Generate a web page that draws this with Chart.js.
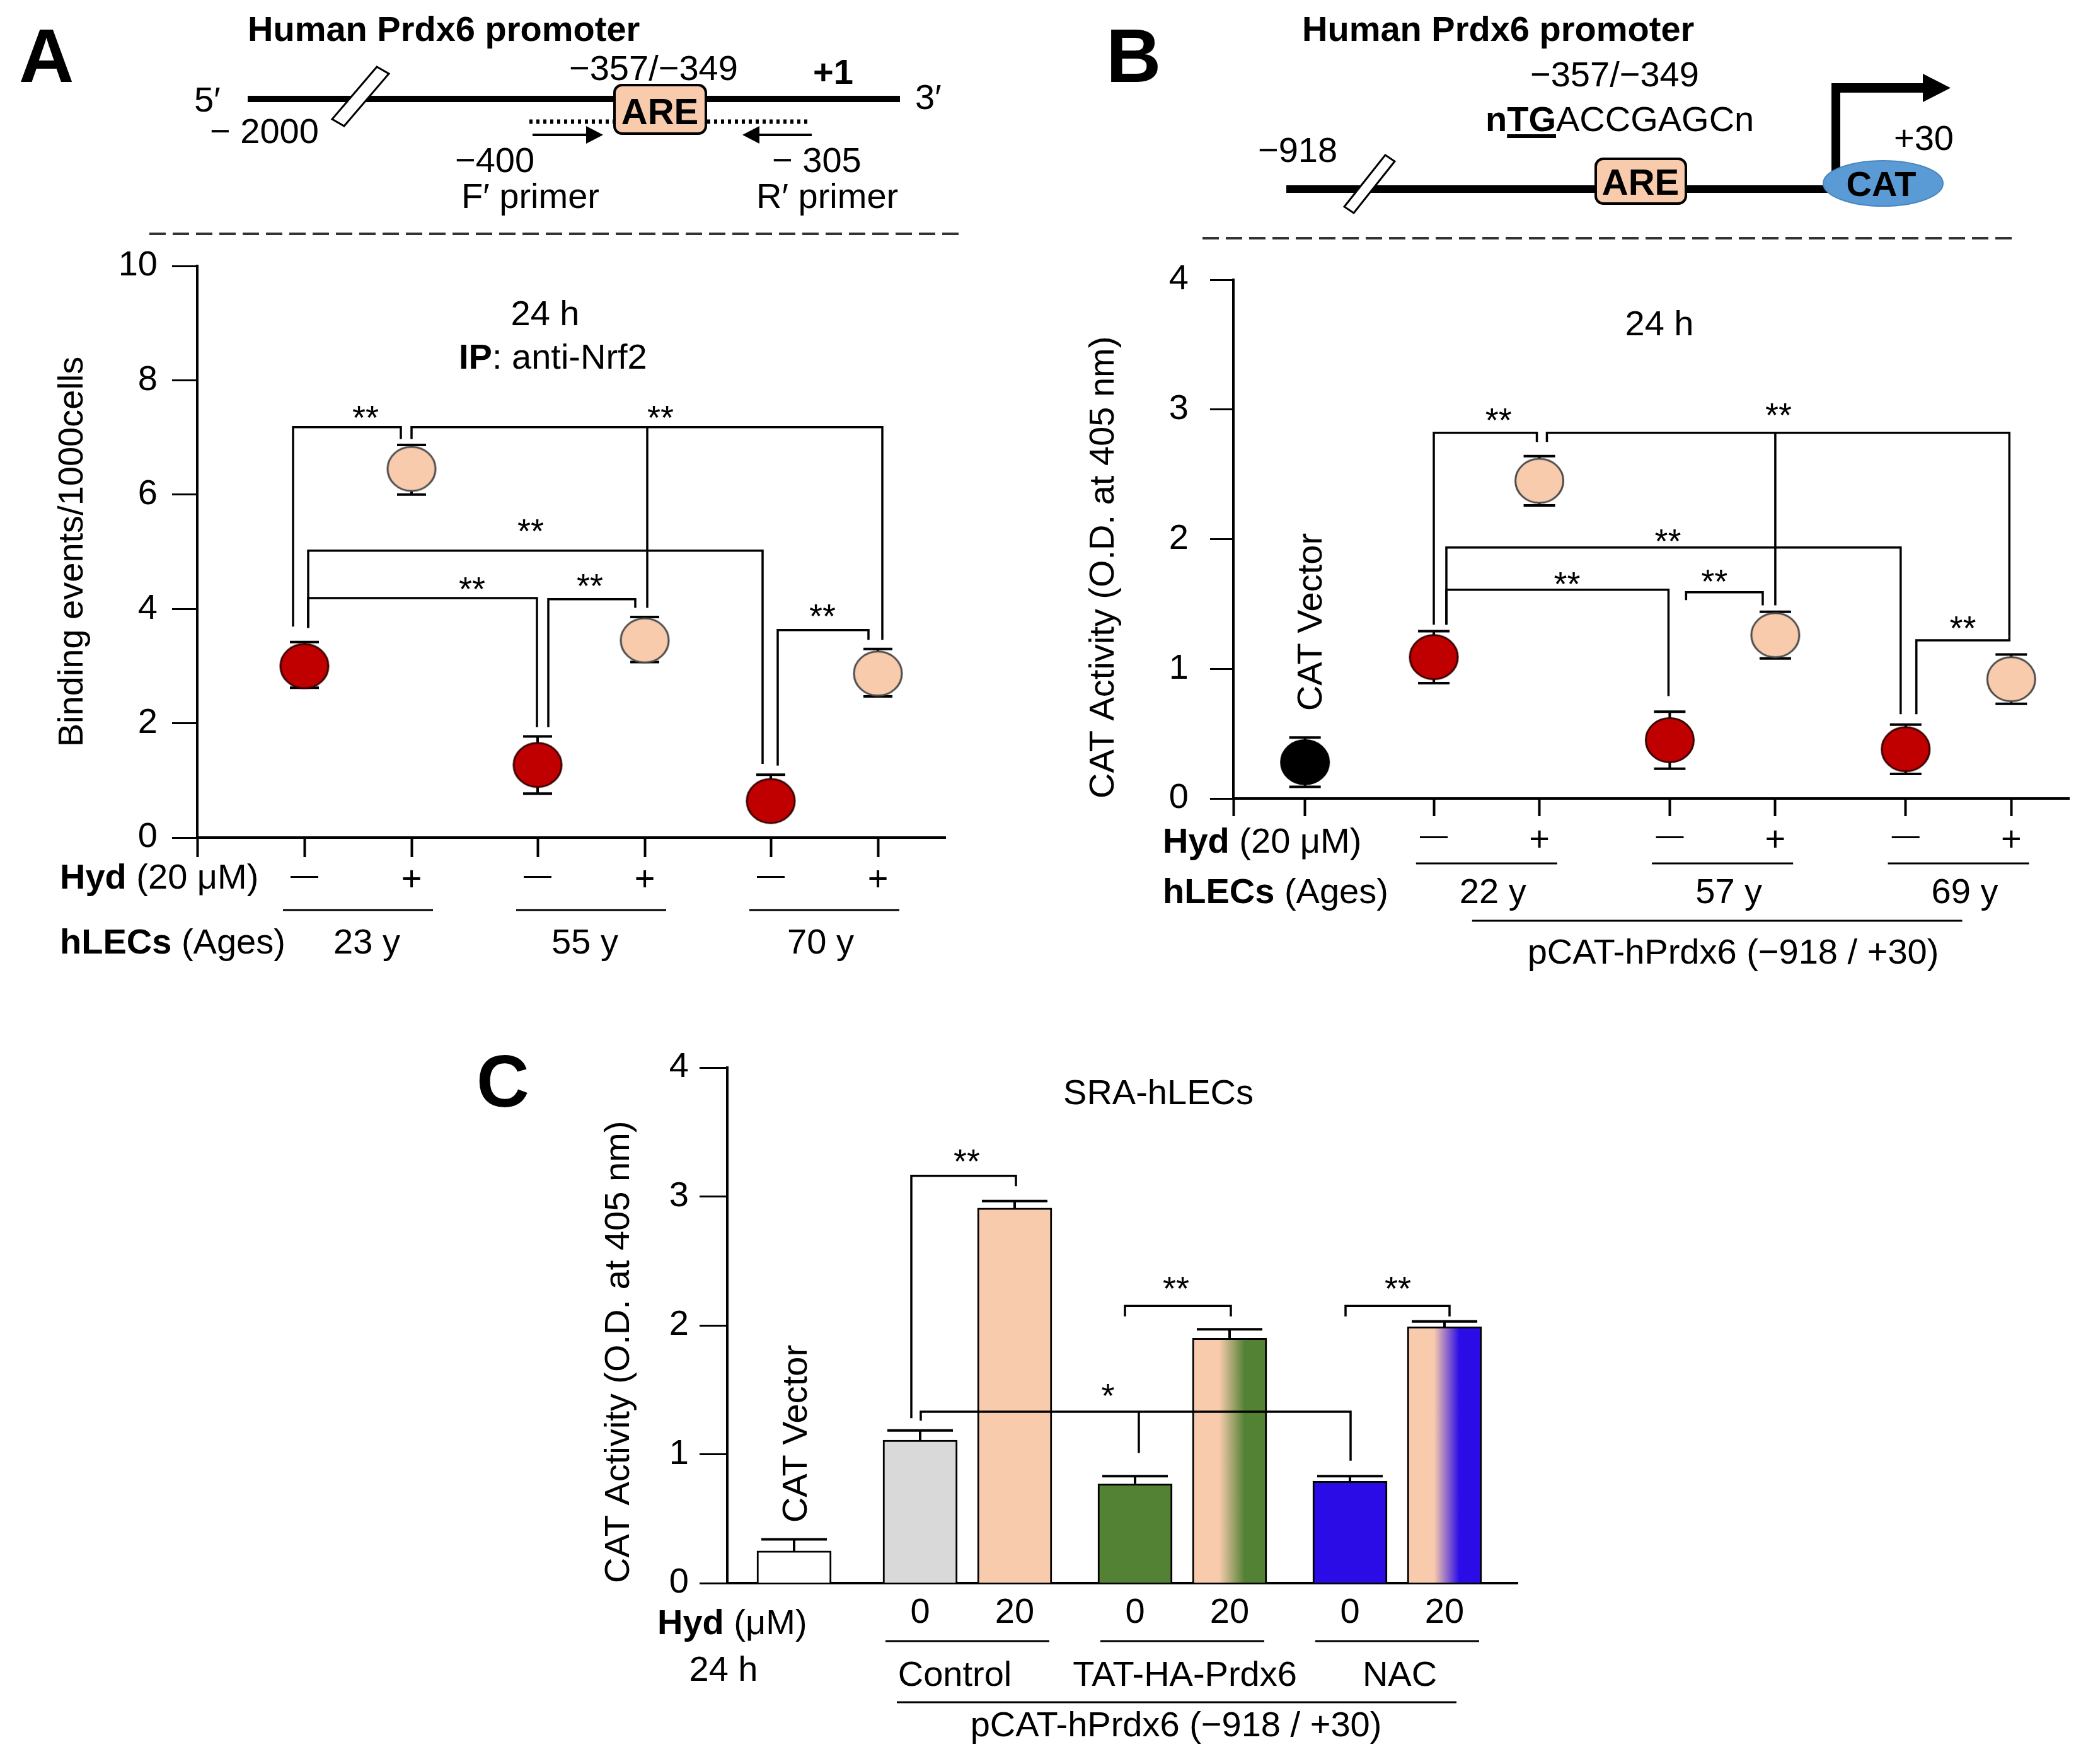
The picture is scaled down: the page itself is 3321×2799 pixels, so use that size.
<!DOCTYPE html>
<html><head><meta charset="utf-8">
<script src="https://cdn.jsdelivr.net/npm/chart.js@4.4.1/dist/chart.umd.min.js"></script>
<style>
html,body{margin:0;padding:0;background:#fff;}
body{width:3321px;height:2799px;position:relative;overflow:hidden;}
canvas{position:absolute;left:0;top:0;}
</style></head><body>
<canvas id="deco" width="3321" height="2799"></canvas>
<canvas id="cA" width="3321" height="2799"></canvas>
<canvas id="cB" width="3321" height="2799"></canvas>
<canvas id="cC" width="3321" height="2799"></canvas>
<script>
// ================= DATA =================
// Panel A : ChIP, binding events / 1000 cells
const A_ages = ['23 y', '55 y', '70 y'];
const A_hyd = ['—', '+'];
const A_mean = [3.0, 6.45, 1.27, 3.45, 0.64, 2.87];
const A_errUp = [0.42, 0.42, 0.5, 0.41, 0.46, 0.43];
const A_errDown = [0.38, 0.45, 0.5, 0.38, 0.3, 0.4];
const A_yTicks = [0, 2, 4, 6, 8, 10];

// Panel B : CAT activity, age groups
const B_ages = ['22 y', '57 y', '69 y'];
const B_hyd = ['—', '+'];
const B_vectorMean = [0.28];
const B_vectorErr = [0.19];
const B_mean = [1.09, 2.45, 0.45, 1.26, 0.38, 0.92];
const B_err = [0.2, 0.19, 0.22, 0.18, 0.19, 0.19];
const B_yTicks = [0, 1, 2, 3, 4];

// Panel C : CAT activity, SRA-hLECs
const C_groups = ['Control', 'TAT-HA-Prdx6', 'NAC'];
const C_hyd = ['0', '20'];
const C_vectorMean = [0.25];
const C_vectorErr = [0.09];
const C_mean = [1.11, 2.91, 0.77, 1.90, 0.79, 1.99];
const C_err = [0.075, 0.055, 0.06, 0.07, 0.04, 0.04];
const C_yTicks = [0, 1, 2, 3, 4];

// significance brackets: legs = [category, px offset, leg-bottom value]
const A_brackets = [
  {top: 7.18, legs: [[0, -18, 3.69], [1, -17, 6.97]], label: '**', lc: 0, ldx: 97, ly: 7.45},
  {top: 7.18, legs: [[1, 0, 6.97], [3, 4, 4.02], [5, 7, 3.46]], label: '**', lc: 3, ldx: 25, ly: 7.45},
  {top: 5.02, legs: [[0, 6, 3.67], [4, -13, 1.29]], label: '**', lc: 2, ldx: -11, ly: 5.46},
  {top: 4.19, legs: [[0, 6, 3.67], [2, -1, 1.93]], label: '**', lc: 2, ldx: -104, ly: 4.45},
  {top: 4.17, legs: [[2, 17, 1.93], [3, -15, 4.02]], label: '**', lc: 3, ldx: -87, ly: 4.5},
  {top: 3.63, legs: [[4, 11, 1.26], [5, -15, 3.46]], label: '**', lc: 4, ldx: 82, ly: 3.98}
];
const B_brackets = [
  {top: 2.82, legs: [[0, 0, 1.34], [1, -4, 2.75]], label: '**', lc: 0, ldx: 103, ly: 2.96},
  {top: 2.82, legs: [[1, 12, 2.75], [3, 0, 1.49], [5, -3, 1.25]], label: '**', lc: 3, ldx: 5, ly: 3.0},
  {top: 1.935, legs: [[0, 20, 1.34], [4, -8, 0.65]], label: '**', lc: 2, ldx: -3, ly: 2.03},
  {top: 1.61, legs: [[0, 20, 1.34], [2, -2, 0.79]], label: '**', lc: 1, ldx: 44, ly: 1.70},
  {top: 1.59, legs: [[2, 26, 1.53], [3, -20, 1.49]], label: '**', lc: 2, ldx: 71, ly: 1.72},
  {top: 1.22, legs: [[4, 17, 0.65], [5, -3, 1.25]], label: '**', lc: 4, ldx: 91, ly: 1.36}
];
const C_brackets = [
  {top: 3.16, legs: [[0, -14, 1.28], [1, 2, 3.08]], label: '**', lc: 0, ldx: 74, ly: 3.32},
  {top: 2.15, legs: [[2, -16, 2.07], [3, 2, 2.07]], label: '**', lc: 2, ldx: 65, ly: 2.33},
  {top: 2.15, legs: [[4, -7, 2.07], [5, 8, 2.07]], label: '**', lc: 4, ldx: 76, ly: 2.33},
  {top: 1.33, legs: [[0, 1, 1.26], [2, 6, 1.01], [4, 1, 0.95]], label: '*', lc: 2, ldx: -43, ly: 1.50}
];

// ================= LAYOUT HELPERS =================
const W = 3321, H = 2799;
const FF = "'Liberation Sans', Arial, Helvetica, sans-serif";
const PEACH = '#F8CBAD', RED = '#C00000', GREEN = '#548235', BLUE = '#2B0CE6', GRAY = '#D9D9D9';
Chart.defaults.font.family = FF;
Chart.defaults.color = '#000';

// x positions (in pixel units along each x scale)
const A_x = i => 170 + Math.floor(i / 2) * 370 + (i % 2) * 170;
const B_vx = 114;
const B_x = i => 319 + Math.floor(i / 2) * 375.5 + (i % 2) * 168;
const C_vx = 106;
const C_x = i => 306 + Math.floor(i / 2) * 341 + (i % 2) * 150;

function T(ctx, parts, x, y, align, size) {
  let total = 0;
  const ws = parts.map(([t, b]) => { ctx.font = (b ? 'bold ' : '') + size + 'px ' + FF; const w = ctx.measureText(t).width; total += w; return w; });
  let cx = align === 'center' ? x - total / 2 : (align === 'right' ? x - total : x);
  const starts = [];
  ctx.textAlign = 'left'; ctx.textBaseline = 'alphabetic'; ctx.fillStyle = '#000';
  parts.forEach(([t, b], i) => { ctx.font = (b ? 'bold ' : '') + size + 'px ' + FF; starts.push(cx); ctx.fillText(t, cx, y); cx += ws[i]; });
  return {starts, ws};
}
function starText(ctx, t, x, cy, size) {
  ctx.font = size + 'px ' + FF;
  const m = ctx.measureText(t);
  ctx.textAlign = 'center'; ctx.textBaseline = 'alphabetic'; ctx.fillStyle = '#000';
  ctx.fillText(t, x, cy + (m.actualBoundingBoxAscent - m.actualBoundingBoxDescent) / 2);
}
function hline(ctx, x1, x2, y, lw) {
  ctx.save(); ctx.strokeStyle = '#000'; ctx.lineWidth = lw;
  ctx.beginPath(); ctx.moveTo(x1, y); ctx.lineTo(x2, y); ctx.stroke(); ctx.restore();
}
function vText(ctx, t, x, y, size) {
  ctx.save(); ctx.translate(x, y); ctx.rotate(-Math.PI / 2);
  T(ctx, [[t, 0]], 0, 0, 'center', size);
  ctx.restore();
}
function ellipseImg(rx, ry, fill, stroke, lw) {
  const c = document.createElement('canvas');
  c.width = Math.ceil(2 * rx + lw + 2); c.height = Math.ceil(2 * ry + lw + 2);
  const g = c.getContext('2d');
  g.beginPath(); g.ellipse(c.width / 2, c.height / 2, rx, ry, 0, 0, Math.PI * 2);
  g.fillStyle = fill; g.fill(); g.lineWidth = lw; g.strokeStyle = stroke; g.stroke();
  return c;
}
const imgRed = ellipseImg(38, 35, RED, '#3a0000', 3);
const imgPeach = ellipseImg(38, 35, PEACH, '#4a4a4a', 3);
const imgBlack = ellipseImg(38, 35, '#000', '#000', 3);

function errBars(chart, xs, means, up, down, half, lw) {
  const {ctx, scales: {x, y}} = chart;
  ctx.save(); ctx.strokeStyle = '#000'; ctx.lineWidth = lw;
  means.forEach((m, i) => {
    const px = x.getPixelForValue(xs[i]);
    const yt = y.getPixelForValue(m + up[i]);
    const yb = y.getPixelForValue(m - (down ? down[i] : 0));
    ctx.beginPath();
    ctx.moveTo(px, yt); ctx.lineTo(px, yb);
    ctx.moveTo(px - half, yt); ctx.lineTo(px + half, yt);
    if (down) { ctx.moveTo(px - half, yb); ctx.lineTo(px + half, yb); }
    ctx.stroke();
  });
  ctx.restore();
}
function drawBrackets(chart, list, xf, lw) {
  const {ctx, scales: {x, y}} = chart;
  ctx.save(); ctx.strokeStyle = '#000'; ctx.lineWidth = lw; ctx.lineJoin = 'miter';
  list.forEach(b => {
    const ty = y.getPixelForValue(b.top);
    const legs = b.legs.map(([c, dx, v]) => [x.getPixelForValue(xf(c) + dx), y.getPixelForValue(v)]);
    const f = legs[0], l = legs[legs.length - 1];
    ctx.beginPath();
    ctx.moveTo(f[0], f[1]); ctx.lineTo(f[0], ty); ctx.lineTo(l[0], ty); ctx.lineTo(l[0], l[1]);
    for (let k = 1; k < legs.length - 1; k++) { ctx.moveTo(legs[k][0], ty); ctx.lineTo(legs[k][0], legs[k][1]); }
    ctx.stroke();
    starText(ctx, b.label, x.getPixelForValue(xf(b.lc) + b.ldx), y.getPixelForValue(b.ly), 54);
  });
  ctx.restore();
}
function pairCenter(x, xf, g) { return (x.getPixelForValue(xf(2 * g)) + x.getPixelForValue(xf(2 * g + 1))) / 2; }

// ================= DECORATION (promoter diagrams) =================
function slash(c, pts) {
  c.save(); c.beginPath(); c.moveTo(pts[0][0], pts[0][1]);
  for (let i = 1; i < pts.length; i++) c.lineTo(pts[i][0], pts[i][1]);
  c.closePath(); c.fillStyle = '#fff'; c.fill(); c.strokeStyle = '#000'; c.lineWidth = 3; c.stroke(); c.restore();
}
function areBox(c, x, y, w, h, cx, base) {
  c.save(); c.beginPath(); c.roundRect(x, y, w, h, 12);
  c.fillStyle = PEACH; c.fill(); c.strokeStyle = '#000'; c.lineWidth = 4; c.stroke(); c.restore();
  T(c, [['ARE', 1]], cx, base, 'center', 58);
}
function dashed(c, x1, x2, y) {
  c.save(); c.strokeStyle = '#333'; c.lineWidth = 4; c.setLineDash([26, 11]);
  c.beginPath(); c.moveTo(x1, y); c.lineTo(x2, y); c.stroke(); c.restore();
}
function drawDeco() {
  const c = document.getElementById('deco').getContext('2d');
  c.fillStyle = '#fff'; c.fillRect(0, 0, W, H);
  // panel letters
  T(c, [['A', 1]], 30, 130, 'left', 121);
  T(c, [['B', 1]], 1755, 130, 'left', 121);
  T(c, [['C', 1]], 756, 1756, 'left', 116);

  // ---- A diagram ----
  T(c, [['Human Prdx6 promoter', 1]], 393, 65, 'left', 56);
  c.fillStyle = '#000'; c.fillRect(393, 152, 1035, 10);
  slash(c, [[598, 106], [617, 117], [546, 200], [527, 189]]);
  T(c, [['5′', 0]], 308, 177, 'left', 56);
  T(c, [['3′', 0]], 1452, 173, 'left', 56);
  T(c, [['− 2000', 0]], 333, 227, 'left', 56);
  T(c, [['−357/−349', 0]], 903, 127, 'left', 56);
  T(c, [['+1', 1]], 1290, 133, 'left', 56);
  c.save(); c.strokeStyle = '#000'; c.lineWidth = 7; c.setLineDash([5, 6]);
  c.beginPath(); c.moveTo(840, 193); c.lineTo(975, 193); c.moveTo(1122, 193); c.lineTo(1282, 193); c.stroke(); c.restore();
  areBox(c, 975, 135, 145, 77, 1047, 197);
  c.save(); c.strokeStyle = '#000'; c.fillStyle = '#000'; c.lineWidth = 4;
  c.beginPath(); c.moveTo(845, 214); c.lineTo(932, 214); c.moveTo(1288, 214); c.lineTo(1203, 214); c.stroke();
  c.beginPath(); c.moveTo(930, 200); c.lineTo(957, 214); c.lineTo(930, 228); c.closePath(); c.fill();
  c.beginPath(); c.moveTo(1205, 200); c.lineTo(1178, 214); c.lineTo(1205, 228); c.closePath(); c.fill();
  c.restore();
  T(c, [['−400', 0]], 722, 273, 'left', 56);
  T(c, [['F′ primer', 0]], 732, 330, 'left', 56);
  T(c, [['− 305', 0]], 1225, 273, 'left', 56);
  T(c, [['R′ primer', 0]], 1200, 330, 'left', 56);
  dashed(c, 237, 1530, 371);

  // ---- B diagram ----
  T(c, [['Human Prdx6 promoter', 1]], 2066, 65, 'left', 56);
  T(c, [['−357/−349', 0]], 2428, 137, 'left', 56);
  const r = T(c, [['n', 1], ['TG', 1], ['ACCGAGCn', 0]], 2357, 208, 'left', 56);
  c.fillStyle = '#000'; c.fillRect(r.starts[1], 213, r.ws[1], 6);
  T(c, [['−918', 0]], 1996, 257, 'left', 56);
  T(c, [['+30', 0]], 3005, 238, 'left', 56);
  c.fillStyle = '#000'; c.fillRect(2041, 294, 870, 12);
  slash(c, [[2198, 246], [2213, 256], [2148, 338], [2133, 328]]);
  areBox(c, 2532, 252, 143, 71, 2603, 309);
  c.fillStyle = '#000';
  c.fillRect(2906, 132, 14, 140);
  c.fillRect(2906, 132, 149, 15);
  c.beginPath(); c.moveTo(3051, 117); c.lineTo(3095, 139.5); c.lineTo(3051, 162); c.closePath(); c.fill();
  c.save(); c.beginPath(); c.ellipse(2988, 291, 95, 36, 0, 0, Math.PI * 2);
  c.fillStyle = '#5B9BD5'; c.fill(); c.strokeStyle = '#4A86BE'; c.lineWidth = 2; c.stroke(); c.restore();
  T(c, [['CAT', 1]], 2985, 311, 'center', 56);
  dashed(c, 1908, 3202, 378);
}
drawDeco();

// ================= PANEL A =================
const A_xs = A_mean.map((_, i) => A_x(i));
const A_ageDx = [14, -10, -6];
const plugA = {
  id: 'plugA',
  beforeDatasetsDraw(chart) { errBars(chart, A_xs, A_mean, A_errUp, A_errDown, 23, 4); },
  afterDatasetsDraw(chart) { drawBrackets(chart, A_brackets, A_x, 3.5); },
  afterDraw(chart) {
    const {ctx, scales: {x}} = chart;
    ctx.save();
    T(ctx, [['24 h', 0]], 865, 516, 'center', 56);
    T(ctx, [['IP', 1], [': anti-Nrf2', 0]], 728, 585, 'left', 56);
    T(ctx, [['Hyd', 1], [' (20 μM)', 0]], 95, 1410, 'left', 56);
    T(ctx, [['hLECs', 1], [' (Ages)', 0]], 95, 1513, 'left', 56);
    A_ages.forEach((a, g) => {
      const cx = pairCenter(x, A_x, g);
      hline(ctx, cx - 119, cx + 119, 1444, 3);
      T(ctx, [[a, 0]], cx + A_ageDx[g], 1513, 'center', 56);
    });
    ctx.restore();
  }
};
new Chart(document.getElementById('cA'), {
  type: 'scatter',
  data: {datasets: [{
    data: A_mean.map((v, i) => ({x: A_xs[i], y: v})),
    pointStyle: A_mean.map((_, i) => i % 2 ? imgPeach : imgRed),
    pointRadius: 37, pointHoverRadius: 37
  }]},
  options: {
    responsive: false, animation: false, devicePixelRatio: 1, events: [],
    layout: {padding: {left: 0, top: 422, right: W - 1500, bottom: H - 1329 - 100}},
    plugins: {legend: {display: false}, tooltip: {enabled: false}},
    scales: {
      x: {type: 'linear', min: 0, max: 1187, offset: false,
        afterBuildTicks: s => { s.ticks = [0, ...A_xs].map(v => ({value: v})); },
        afterFit: s => { s.height = 100; },
        ticks: {autoSkip: false, maxRotation: 0, minRotation: 0, padding: 4, color: '#000',
          font: c => ({family: FF, size: c.index % 2 === 1 ? 44 : 56}),
          callback: (v, i) => i === 0 ? '' : A_hyd[(i - 1) % 2]},
        grid: {drawOnChartArea: false, drawTicks: true, tickLength: 31, tickWidth: 4, tickColor: '#000'},
        border: {display: true, color: '#000', width: 4}},
      y: {type: 'linear', min: 0, max: 10,
        afterBuildTicks: s => { s.ticks = A_yTicks.map(v => ({value: v})); },
        afterFit: s => { s.width = 313; },
        ticks: {padding: 23, color: '#000', font: {family: FF, size: 56}, callback: v => String(v)},
        grid: {drawOnChartArea: false, tickLength: 40, tickWidth: 3, tickColor: '#000'},
        border: {display: true, color: '#000', width: 4},
        title: {display: true, text: 'Binding events/1000cells', color: '#000', font: {family: FF, size: 56}, padding: {top: 82, bottom: 0}}}
    }
  },
  plugins: [plugA]
});

// ================= PANEL B =================
const B_xs = [B_vx, ...B_mean.map((_, i) => B_x(i))];
const B_all = [...B_vectorMean, ...B_mean];
const B_allErr = [...B_vectorErr, ...B_err];
const plugB = {
  id: 'plugB',
  beforeDatasetsDraw(chart) { errBars(chart, B_xs, B_all, B_allErr, B_allErr, 25, 4); },
  afterDatasetsDraw(chart) { drawBrackets(chart, B_brackets, B_x, 3.5); },
  afterDraw(chart) {
    const {ctx, scales: {x}} = chart;
    ctx.save();
    T(ctx, [['24 h', 0]], 2633, 532, 'center', 56);
    vText(ctx, 'CAT Vector', 2097, 987, 56);
    T(ctx, [['Hyd', 1], [' (20 μM)', 0]], 1845, 1353, 'left', 56);
    T(ctx, [['hLECs', 1], [' (Ages)', 0]], 1845, 1433, 'left', 56);
    B_ages.forEach((a, g) => {
      const cx = pairCenter(x, B_x, g);
      hline(ctx, cx - 112, cx + 112, 1370, 3);
      T(ctx, [[a, 0]], cx + 10, 1433, 'center', 56);
    });
    hline(ctx, pairCenter(x, B_x, 0) - 23, pairCenter(x, B_x, 2) + 6, 1461, 3);
    T(ctx, [['pCAT-hPrdx6 (−918 / +30)', 0]], 2750, 1529, 'center', 56);
    ctx.restore();
  }
};
new Chart(document.getElementById('cB'), {
  type: 'scatter',
  data: {datasets: [{
    data: B_all.map((v, i) => ({x: B_xs[i], y: v})),
    pointStyle: B_all.map((_, i) => i === 0 ? imgBlack : (i % 2 ? imgRed : imgPeach)),
    pointRadius: 37, pointHoverRadius: 37
  }]},
  options: {
    responsive: false, animation: false, devicePixelRatio: 1, events: [],
    layout: {padding: {left: 1650, top: 444, right: W - 3287, bottom: H - 1267 - 100}},
    plugins: {legend: {display: false}, tooltip: {enabled: false}},
    scales: {
      x: {type: 'linear', min: 0, max: 1330, offset: false,
        afterBuildTicks: s => { s.ticks = [0, ...B_xs].map(v => ({value: v})); },
        afterFit: s => { s.height = 100; },
        ticks: {autoSkip: false, maxRotation: 0, minRotation: 0, padding: 6, color: '#000',
          font: c => ({family: FF, size: (c.index >= 2 && c.index % 2 === 0) ? 44 : 56}),
          callback: (v, i) => i < 2 ? '' : B_hyd[(i - 2) % 2]},
        grid: {drawOnChartArea: false, drawTicks: true, tickLength: 28, tickWidth: 4, tickColor: '#000'},
        border: {display: true, color: '#000', width: 4}},
      y: {type: 'linear', min: 0, max: 4,
        afterBuildTicks: s => { s.ticks = B_yTicks.map(v => ({value: v})); },
        afterFit: s => { s.width = 307; },
        ticks: {padding: 34, color: '#000', font: {family: FF, size: 56}, callback: v => String(v)},
        grid: {drawOnChartArea: false, tickLength: 37, tickWidth: 3, tickColor: '#000'},
        border: {display: true, color: '#000', width: 4},
        title: {display: true, align: 'start', text: 'CAT Activity (O.D. at 405 nm)', color: '#000', font: {family: FF, size: 56}, padding: {top: 68, bottom: 0}}}
    }
  },
  plugins: [plugB]
});

// ================= PANEL C =================
const C_xs = [C_vx, ...C_mean.map((_, i) => C_x(i))];
const C_all = [...C_vectorMean, ...C_mean];
const C_allErr = [...C_vectorErr, ...C_err];
const C_colors = ['#FFFFFF', GRAY, PEACH, GREEN, null, BLUE, null];
const C_gradTo = [null, null, null, null, GREEN, null, BLUE];
function cFill(ctx) {
  const i = ctx.dataIndex;
  if (!C_gradTo[i]) return C_colors[i];
  const xs = ctx.chart.scales.x;
  const cx = xs.getPixelForValue(C_xs[i]);
  const g = ctx.chart.ctx.createLinearGradient(cx - 59, 0, cx + 59, 0);
  g.addColorStop(0, PEACH); g.addColorStop(0.36, PEACH);
  g.addColorStop(0.7, C_gradTo[i]); g.addColorStop(1, C_gradTo[i]);
  return g;
}
const plugC = {
  id: 'plugC',
  afterDatasetsDraw(chart) {
    errBars(chart, C_xs, C_all, C_allErr, null, 52, 4);
    drawBrackets(chart, C_brackets, C_x, 3.5);
  },
  afterDraw(chart) {
    const {ctx, scales: {x}} = chart;
    ctx.save();
    T(ctx, [['SRA-hLECs', 0]], 1838, 1752, 'center', 56);
    vText(ctx, 'CAT Vector', 1280, 2275, 56);
    T(ctx, [['Hyd', 1], [' (μM)', 0]], 1043, 2593, 'left', 56);
    T(ctx, [['24 h', 0]], 1148, 2667, 'center', 56);
    C_groups.forEach((gname, g) => {
      const cx = pairCenter(x, C_x, g);
      hline(ctx, cx - 130, cx + 130, 2604, 3);
      T(ctx, [[gname, 0]], cx + (g === 0 ? -20 : 4), 2675, 'center', 56);
    });
    hline(ctx, pairCenter(x, C_x, 0) - 112, pairCenter(x, C_x, 2) + 94, 2701, 3);
    T(ctx, [['pCAT-hPrdx6 (−918 / +30)', 0]], 1866, 2755, 'center', 56);
    ctx.restore();
  }
};
new Chart(document.getElementById('cC'), {
  type: 'bar',
  data: {datasets: [{
    data: C_all.map((v, i) => ({x: C_xs[i], y: v})),
    backgroundColor: cFill, borderColor: '#000', borderWidth: 3, borderSkipped: 'start',
    barThickness: 118
  }]},
  options: {
    responsive: false, animation: false, devicePixelRatio: 1, events: [],
    layout: {padding: {left: 850, top: 1694, right: W - 2408, bottom: H - 2512 - 100}},
    plugins: {legend: {display: false}, tooltip: {enabled: false}},
    scales: {
      x: {type: 'linear', min: 0, max: 1254, offset: false,
        afterBuildTicks: s => { s.ticks = C_mean.map((_, i) => ({value: C_x(i)})); },
        afterFit: s => { s.height = 100; },
        ticks: {autoSkip: false, maxRotation: 0, minRotation: 0, padding: 14, color: '#000',
          font: {family: FF, size: 56}, callback: (v, i) => C_hyd[i % 2]},
        grid: {drawOnChartArea: false, drawTicks: false, offset: false},
        border: {display: true, color: '#000', width: 4}},
      y: {type: 'linear', min: 0, max: 4,
        afterBuildTicks: s => { s.ticks = C_yTicks.map(v => ({value: v})); },
        afterFit: s => { s.width = 304; },
        ticks: {padding: 17, color: '#000', font: {family: FF, size: 56}, callback: v => String(v)},
        grid: {drawOnChartArea: false, tickLength: 44, tickWidth: 3, tickColor: '#000'},
        border: {display: true, color: '#000', width: 4},
        title: {display: true, align: 'start', text: 'CAT Activity (O.D. at 405 nm)', color: '#000', font: {family: FF, size: 56}, padding: {top: 99, bottom: 0}}}
    }
  },
  plugins: [plugC]
});
</script></body></html>
